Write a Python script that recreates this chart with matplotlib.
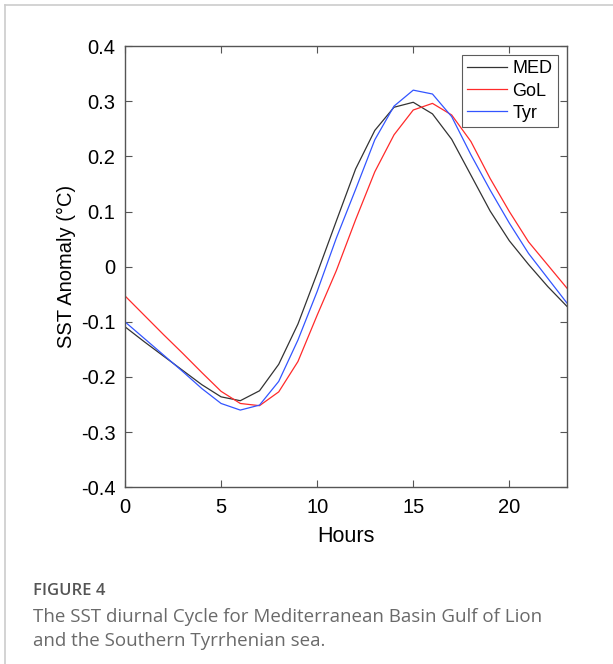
import matplotlib
matplotlib.use("Agg")
import matplotlib.pyplot as plt
from matplotlib.lines import Line2D

# Diurnal SST anomaly (°C) per hour
horas = list(range(24))
med = [-0.109, -0.136, -0.162, -0.188, -0.214, -0.236, -0.243, -0.225, -0.177, -0.104,
       -0.012, 0.083, 0.177, 0.247, 0.289, 0.298, 0.277, 0.231, 0.166, 0.101,
       0.047, 0.004, -0.036, -0.072]
gol = [-0.053, -0.088, -0.123, -0.157, -0.192, -0.226, -0.248, -0.252, -0.227, -0.172,
       -0.088, -0.007, 0.085, 0.172, 0.239, 0.284, 0.296, 0.275, 0.227, 0.160,
       0.100, 0.045, 0.003, -0.039]
tyr = [-0.100, -0.130, -0.160, -0.190, -0.221, -0.248, -0.260, -0.251, -0.208, -0.133,
       -0.045, 0.052, 0.140, 0.230, 0.291, 0.320, 0.313, 0.272, 0.203, 0.139,
       0.079, 0.024, -0.021, -0.066]

nombres = ["MED", "GoL", "Tyr"]
colores = ["#333333", "#ff2a2a", "#3355ff"]
xticks = [0, 5, 10, 15, 20]
yticks = [-0.4, -0.3, -0.2, -0.1, 0, 0.1, 0.2, 0.3, 0.4]
ylabels = ["-0.4", "-0.3", "-0.2", "-0.1", "0", "0.1", "0.2", "0.3", "0.4"]

plt.rcParams["font.family"] = ["Liberation Sans", "DejaVu Sans"]

fig = plt.figure(figsize=(6.13, 6.64), dpi=100)

# marco gris de la figura
fig.add_artist(Line2D([5 / 613, 1], [1 - 5 / 664, 1 - 5 / 664], color="#cccccc", lw=1.2))
fig.add_artist(Line2D([5 / 613, 5 / 613], [0, 1 - 5 / 664], color="#cccccc", lw=1.2))

ax = fig.add_axes([0.2039, 0.2661, 0.7210, 0.6646])
for serie, nombre, color in zip([med, gol, tyr], nombres, colores):
    ax.plot(horas, serie, color=color, lw=0.9, label=nombre)

ax.set_xlim(0, 23)
ax.set_ylim(-0.4, 0.4)
ax.set_xticks(xticks)
ax.set_yticks(yticks)
ax.set_yticklabels(ylabels)
ax.tick_params(direction="in", top=True, right=True, length=5, width=0.8,
               color="#555555", labelsize=14.5)
ax.tick_params(axis="x", pad=8)
ax.tick_params(axis="y", pad=7)
for s in ax.spines.values():
    s.set_color("#555555")
    s.set_linewidth(1.0)
ax.set_xlabel("Hours", fontsize=15.5, labelpad=6)
ax.set_ylabel("SST Anomaly (°C)", fontsize=14.5, labelpad=3)

leg = ax.legend(loc="upper right", fontsize=13, frameon=True, fancybox=False,
                edgecolor="#333333", handlelength=2.2, handletextpad=0.3,
                borderpad=0.3, labelspacing=0.28, borderaxespad=0.5)
leg.get_frame().set_linewidth(0.8)

# pie de figura
fig.text(33 / 613, 1 - 595 / 664, "FIGURE 4", fontsize=12, color="#555555",
         fontweight="semibold", family=["Open Sans", "DejaVu Sans"], va="baseline")
fig.text(33 / 613, 1 - 622 / 664, "The SST diurnal Cycle for Mediterranean Basin Gulf of Lion",
         fontsize=13.5, color="#6a6a6a", family=["Open Sans", "DejaVu Sans"], va="baseline")
fig.text(33 / 613, 1 - 646 / 664, "and the Southern Tyrrhenian sea.",
         fontsize=13.5, color="#6a6a6a", family=["Open Sans", "DejaVu Sans"], va="baseline")

fig.savefig("out.png", dpi=100)
